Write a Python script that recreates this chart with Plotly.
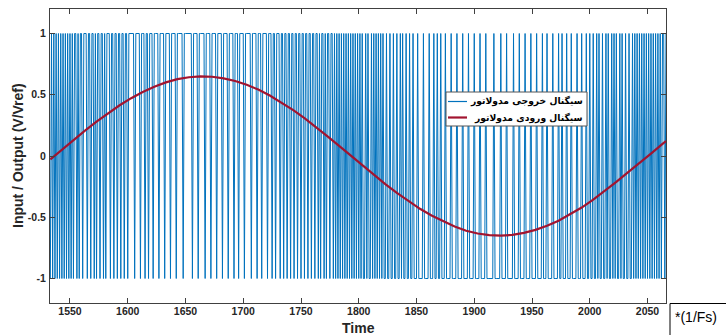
import plotly.graph_objects as go

# ---------------- data ----------------
t_start = 1533  # first sample index (time in units of 1/Fs)

# modulator output bits, 10 samples per chunk ('1' -> +1, '0' -> -1)
out_bit_chunks = [
    "0101010101", "0101010101", "0110101101", "1101101101", "0110110101",
    "1101101101", "1011011011", "1110111101", "1101101110", "1111011110",
    "1111011110", "1111101111", "1110111101", "1111011110", "1111011110",
    "1111011110", "1110111101", "1111011110", "1110111101", "1101101110",
    "1101101101", "1011011011", "0110110110", "1101011010", "1101101010",
    "1010101010", "1010101010", "1001010010", "1010101010", "0100100100",
    "1001010010", "0100100010", "0001000010", "0010010010", "0010000100",
    "0010000100", "0010000100", "0010000100", "0000100000", "1000010000",
    "0100001000", "0100001000", "0100001000", "1000010000", "1001000100",
    "0100001000", "1000100100", "1001010010", "0101001010", "1001010010",
    "0100101010", "1010101010", "1010101010", "1101",
]

# modulator input (sine)
in_t = [1533, 1543, 1553, 1563, 1573, 1583, 1593, 1603, 1613, 1623, 1633,
        1643, 1653, 1663, 1673, 1683, 1693, 1703, 1713, 1723, 1733, 1743,
        1753, 1763, 1773, 1783, 1793, 1803, 1813, 1823, 1833, 1843, 1853,
        1863, 1873, 1883, 1893, 1903, 1913, 1923, 1933, 1943, 1953, 1963,
        1973, 1983, 1993, 2003, 2013, 2023, 2033, 2043, 2053, 2063, 2066]
in_v = [-0.028, 0.052, 0.130, 0.207, 0.280, 0.350, 0.414, 0.472, 0.523,
        0.566, 0.601, 0.627, 0.643, 0.650, 0.647, 0.634, 0.612, 0.581,
        0.542, 0.494, 0.438, 0.376, 0.309, 0.238, 0.161, 0.083, 0.004,
        -0.075, -0.153, -0.229, -0.301, -0.369, -0.431, -0.486, -0.534,
        -0.576, -0.610, -0.633, -0.646, -0.650, -0.644, -0.628, -0.603,
        -0.570, -0.529, -0.478, -0.421, -0.356, -0.286, -0.211, -0.134,
        -0.060, 0.020, 0.099, 0.122]

x_ticks = [1550, 1600, 1650, 1700, 1750, 1800, 1850, 1900, 1950, 2000, 2050]
y_ticks = [-1, -0.5, 0, 0.5, 1]
y_tick_text = ["-1", "-0.5", "0", "0.5", "1"]

legend_names = ["سیگنال خروجی مدولاتور", "سیگنال ورودی مدولاتور"]
x_label = "Time"
y_label = "Input / Output (V/Vref)"
unit_label = "*(1/Fs)"

blue = "#0072BD"
red = "#A2142F"

# ---------------- build ----------------
bits = "".join(out_bit_chunks)
out_v = [1 if b == "1" else -1 for b in bits]
out_t = list(range(t_start, t_start + len(out_v)))

W, H = 726, 335
L, R, T, B = 50, 60, 9, 32
pw, ph = W - L - R, H - T - B


def px(x):
    return (x - L) / pw


def py(y):
    return (H - B - y) / ph


fig = go.Figure()
fig.add_trace(go.Scatter(x=out_t, y=out_v, mode="lines", name=legend_names[0],
                         line=dict(color=blue, width=1), hoverinfo="skip"))
fig.add_trace(go.Scatter(x=in_t, y=in_v, mode="lines", name=legend_names[1],
                         line=dict(color=red, width=2.2), hoverinfo="skip"))

axis_common = dict(showgrid=False, zeroline=False, showline=True, mirror="ticks",
                   linecolor="#404040", linewidth=1, ticks="inside", ticklen=5,
                   tickcolor="#404040",
                   tickfont=dict(family="Liberation Sans", size=10.5, color="#262626",
                                 weight="bold"))

fig.update_xaxes(range=[t_start - 0.3, 2066], tickvals=x_ticks, ticklabelstandoff=-2,
                 **axis_common)
fig.update_yaxes(range=[-1.2, 1.2], tickvals=y_ticks, ticktext=y_tick_text,
                 ticklabelstandoff=1, **axis_common)

shapes = []
annos = []

# custom legend box
lx0, lx1, ly0, ly1 = 446, 587, 92, 126
shapes.append(dict(type="rect", xref="paper", yref="paper",
                   x0=px(lx0), x1=px(lx1), y0=py(ly1), y1=py(ly0),
                   fillcolor="white", line=dict(color="#555555", width=1), layer="above"))
rows = [101.5, 117.5]
colors = [blue, red]
widths = [1.2, 2.2]
for i in range(2):
    shapes.append(dict(type="line", xref="paper", yref="paper",
                       x0=px(448), x1=px(467), y0=py(rows[i]), y1=py(rows[i]),
                       line=dict(color=colors[i], width=widths[i]), layer="above"))
    annos.append(dict(text="<b>" + legend_names[i] + "</b>", xref="paper", yref="paper",
                      x=px(585), y=py(rows[i]), xanchor="right", yanchor="middle",
                      showarrow=False,
                      font=dict(family="DejaVu Sans", size=9.2, color="black")))

# unit box at bottom right
shapes.append(dict(type="rect", xref="paper", yref="paper",
                   x0=px(670), x1=px(740), y0=py(345), y1=py(303.5),
                   fillcolor="rgba(0,0,0,0)", line=dict(color="black", width=1)))
annos.append(dict(text=unit_label, xref="paper", yref="paper", x=px(673), y=py(317),
                  xanchor="left", yanchor="middle", showarrow=False,
                  font=dict(family="Liberation Sans", size=14, color="black")))

# axis titles
annos.append(dict(text="<b>" + x_label + "</b>", xref="paper", yref="paper",
                  x=0.5, y=py(328), xanchor="center", yanchor="middle", showarrow=False,
                  font=dict(family="Liberation Sans", size=14, color="#262626")))
annos.append(dict(text="<b>" + y_label + "</b>", xref="paper", yref="paper",
                  x=px(18), y=0.5, xanchor="center", yanchor="middle", showarrow=False,
                  textangle=-90,
                  font=dict(family="Liberation Sans", size=14, color="#262626")))

fig.update_layout(width=W, height=H, margin=dict(l=L, r=R, t=T, b=B),
                  paper_bgcolor="white", plot_bgcolor="white", showlegend=False,
                  shapes=shapes, annotations=annos)

fig.write_html("out.html")
